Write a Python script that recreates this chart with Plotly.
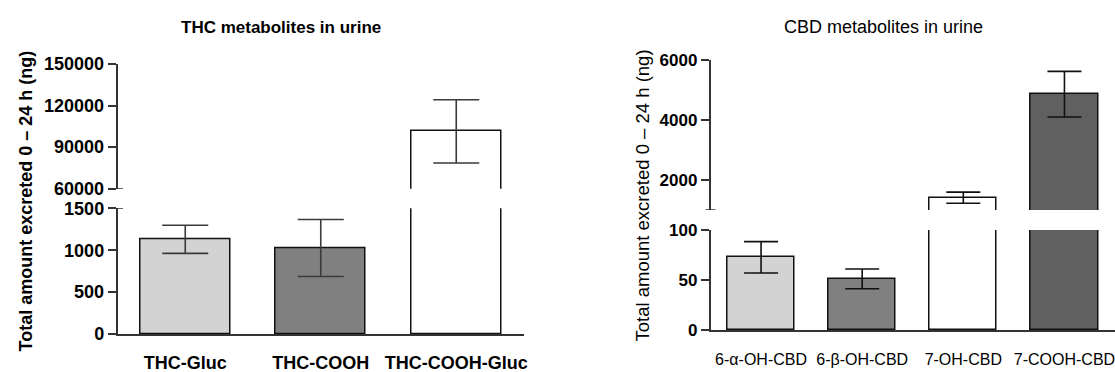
import plotly.graph_objects as go

W, H = 1115, 372

# ---------------- data ----------------
thc_cats = ["THC-Gluc", "THC-COOH", "THC-COOH-Gluc"]
thc_mean = [1130, 1026, 101350]
thc_sem = [168, 340, 22800]
thc_colors = ["#d3d3d3", "#808080", "#ffffff"]
thc_low_ticks = [0, 500, 1000, 1500]
thc_high_ticks = [60000, 90000, 120000, 150000]
thc_low_range = [0, 1500]
thc_high_range = [60000, 150000]

cbd_cats = ["6-α-OH-CBD", "6-β-OH-CBD", "7-OH-CBD", "7-COOH-CBD"]
cbd_mean = [72.7, 51.1, 1410, 4860]
cbd_sem = [15.7, 9.9, 185, 762]
cbd_colors = ["#d3d3d3", "#808080", "#ffffff", "#606060"]
cbd_low_ticks = [0, 50, 100]
cbd_high_ticks = [2000, 4000, 6000]
cbd_low_range = [0, 100]
cbd_high_range = [1000, 6000]

ytitle = "Total amount excreted 0 – 24 h (ng)"

FONT = "Liberation Sans, Arial, sans-serif"
FB = "Liberation Sans, Arial, sans-serif"


def fx(px):
    return px / W


def fy(py):
    return 1 - py / H


def errs(means, sems, rng):
    return [s if rng[0] <= m <= rng[1] else None for m, s in zip(means, sems)]


fig = go.Figure()


def add_bars(cats, means, sems, colors, xa, ya, rng, ecol, ewidth):
    fig.add_trace(go.Bar(
        x=cats, y=means, xaxis=xa, yaxis=ya, width=0.665,
        marker=dict(color=colors, line=dict(color="#111111", width=1.5)),
        error_y=dict(type="data", array=errs(means, sems, rng), visible=True,
                     color=ecol, thickness=1.6, width=ewidth),
        showlegend=False, hoverinfo="skip",
    ))


add_bars(thc_cats, thc_mean, thc_sem, thc_colors, "x", "y", thc_low_range, "#3a3a3a", 23)
add_bars(thc_cats, thc_mean, thc_sem, thc_colors, "x", "y2", thc_high_range, "#3a3a3a", 23)
add_bars(cbd_cats, cbd_mean, cbd_sem, cbd_colors, "x2", "y3", cbd_low_range, "#111111", 17)
add_bars(cbd_cats, cbd_mean, cbd_sem, cbd_colors, "x2", "y4", cbd_high_range, "#111111", 17)

ax_common = dict(showgrid=False, zeroline=False, showline=True, linecolor="#333333",
                 linewidth=1.5, fixedrange=True, automargin=False)
y_common = dict(ax_common, ticks="outside", ticklen=8, tickwidth=1.5, tickcolor="#333333",
                tickformat="d")

left_x0, left_x1 = 117.5, 524
right_x0, right_x1 = 710.5, 1115

fig.update_layout(
    template="none",
    width=W, height=H, margin=dict(l=0, r=0, t=0, b=0, autoexpand=False),
    paper_bgcolor="white", plot_bgcolor="white", bargap=0,
    font=dict(family=FONT, color="#000000"),
    xaxis=dict(ax_common, domain=[fx(left_x0), fx(left_x1)], range=[-0.5, 2.5], anchor="y",
               ticks="", ticklabelstandoff=12,
               tickfont=dict(family=FB, size=18, weight="bold", color="#000")),
    yaxis=dict(y_common, domain=[fy(334), fy(208.3)], range=thc_low_range, anchor="x",
               tickvals=thc_low_ticks,
               tickfont=dict(family=FB, size=18, weight="bold", color="#000")),
    yaxis2=dict(y_common, domain=[fy(188.7), fy(64)], range=thc_high_range, anchor="x",
                tickvals=thc_high_ticks,
                tickfont=dict(family=FB, size=18, weight="bold", color="#000")),
    xaxis2=dict(ax_common, domain=[fx(right_x0), fx(right_x1)], range=[-0.5, 3.5], anchor="y3",
                ticks="", ticklabelstandoff=14,
                tickfont=dict(family=FONT, size=16, color="#000")),
    yaxis3=dict(y_common, domain=[fy(330), fy(230)], range=cbd_low_range, anchor="x2",
                tickvals=cbd_low_ticks,
                tickfont=dict(family=FB, size=17, weight="bold", color="#000")),
    yaxis4=dict(y_common, domain=[fy(210), fy(60)], range=cbd_high_range, anchor="x2",
                tickvals=cbd_high_ticks,
                tickfont=dict(family=FB, size=17, weight="bold", color="#000")),
)

# axis end caps at the breaks
caps = [
    (left_x0, left_x0 + 5.5, "y2", thc_high_range[0]),
    (left_x0, left_x0 + 5.5, "y", thc_low_range[1]),
    (right_x0 - 5, right_x0 + 5, "y4", cbd_high_range[0]),
]
for x0, x1, yr, yv in caps:
    fig.add_shape(type="line", xref="paper", yref=yr, x0=fx(x0), x1=fx(x1), y0=yv, y1=yv,
                  line=dict(color="#333333", width=1.5))

ann = [
    dict(text="THC metabolites in urine", x=fx(281.5), y=fy(27),
         font=dict(family=FB, size=17, weight="bold", color="#000"), textangle=0),
    dict(text="CBD metabolites in urine", x=fx(883.5), y=fy(27),
         font=dict(family=FONT, size=18, color="#000"), textangle=0),
    dict(text=ytitle, x=fx(25), y=fy(201.5),
         font=dict(family=FB, size=18, weight="bold", color="#000"), textangle=-90),
    dict(text=ytitle, x=fx(641.5), y=fy(196),
         font=dict(family=FONT, size=18.5, color="#000"), textangle=-90),
]
for a in ann:
    fig.add_annotation(xref="paper", yref="paper", showarrow=False,
                       xanchor="center", yanchor="middle", **a)

fig.write_html(
    "out.html",
    config={"displayModeBar": False},
    post_script="document.body.style.margin='0';document.body.style.overflow='hidden';",
)
